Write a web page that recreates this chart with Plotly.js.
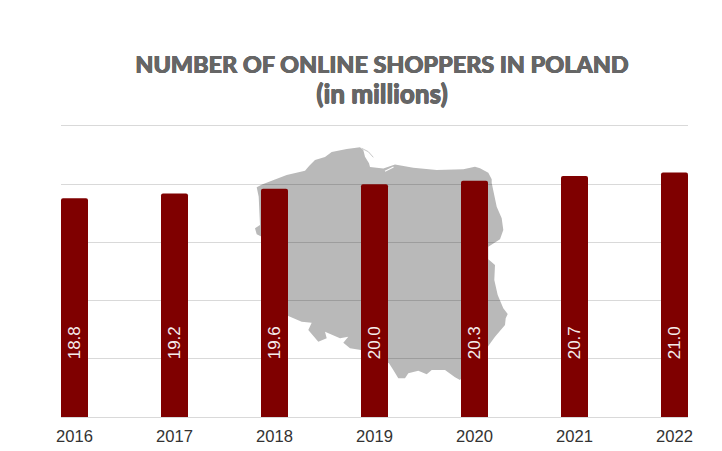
<!DOCTYPE html>
<html>
<head>
<meta charset="utf-8">
<script src="https://cdn.plot.ly/plotly-3.0.1.min.js"></script>
<style>html,body{margin:0;padding:0;background:#fff}</style>
</head>
<body>
<div id="chart" style="width:722px;height:451px"></div>
<script>
const years = ["2016","2017","2018","2019","2020","2021","2022"];
const shoppers = [18.8,19.2,19.6,20.0,20.3,20.7,21.0];
const labelHeight = 4.87;
const titleLines = ["NUMBER OF ONLINE SHOPPERS IN POLAND","(in millions)"];

// Decorative country silhouette traced in page pixels (not chart data)
const W = 722, H = 451;
const M = {l:61, r:34, t:124, b:34};
const outline = [[256.7,187.3],[262,184.5],[271.7,180.7],[286.7,175],[305,170.7],[309.3,165.7],[315,160],[325,157],[331.7,152],[346.7,149],[360,147.3],[363.3,150],[365,156.7],[369,163.3],[370,167],[383.3,168.5],[395,164.5],[413.3,167.7],[436.7,170],[463.3,169.3],[475,166.7],[480,168.3],[488.3,172.7],[491.7,179.3],[491.7,183],[496.7,206.7],[501.7,218.3],[503.3,230],[500,239.3],[488.3,246.7],[488.3,259.3],[495,265],[494.3,280],[497.7,295],[503.3,308.3],[507.7,314],[505.7,318.3],[505,325],[495,336.7],[488.3,346],[460,380],[455,377.3],[445,370],[431.7,370],[426.7,374.3],[418.3,370.7],[408.3,373.3],[405,378.3],[398.3,378.3],[393.3,370],[389,363.3],[361,350],[350,348.3],[343.3,342.7],[348.3,336.7],[340,338.3],[325,331.7],[326.7,338.3],[318.3,341.7],[308.3,330],[311.7,322.7],[301.7,321.7],[288.3,316],[262,290],[261.7,236.7],[256.7,234.3],[255,228.3],[260,225],[258.7,196.7]];
const hel = [[361.7,148.3],[368.3,151.7],[373.3,157.3]];
const lagoon = [[385,171.3],[393.5,167]];

const plotX = v => (v - M.l) / (W - M.l - M.r);
const plotY = v => (H - M.b - v) / (H - M.t - M.b);
const toPath = (pts, close) => "M" + pts.map(p => plotX(p[0]) + "," + plotY(p[1])).join(" L") + (close ? " Z" : "");

const shapes = [
  {type:"path", xref:"paper", yref:"paper", layer:"below", path:toPath(outline,true), fillcolor:"#b9b9b9", line:{width:0}},
  {type:"path", xref:"paper", yref:"paper", layer:"below", path:toPath(hel,false), line:{color:"#c8c8c8", width:1}},
  {type:"path", xref:"paper", yref:"paper", layer:"below", path:toPath(lagoon,false), line:{color:"#ffffff", width:1.2}}
];

const trace = {
  type:"bar", x:years, y:shoppers,
  marker:{color:"#7f0000", line:{width:0}},
  hoverinfo:"x+y"
};

const annotations = years.map((yr,i) => ({
  x:i, y:labelHeight, xref:"x", yref:"y",
  text:shoppers[i].toFixed(1), textangle:-90, showarrow:false,
  yanchor:"bottom", xanchor:"center", borderpad:0,
  font:{family:"Liberation Sans, Arial, sans-serif", size:17, color:"#f5ecec"}
}));

const layout = {
  width:W, height:H, margin:{l:M.l, r:M.r, t:M.t, b:M.b, autoexpand:false},
  paper_bgcolor:"#fff", plot_bgcolor:"rgba(0,0,0,0)",
  showlegend:false, bargap:0.73, barcornerradius:2,
  title:{text:titleLines[0] + '<br><span style="font-size:26px">' + titleLines[1] + '</span>', x:382/W, xanchor:"center", y:1-73/H, yanchor:"bottom", yref:"container",
    font:{family:"Lato, sans-serif", size:23.4, color:"#666666", weight:900, shadow:"0.5px 0 0 #666666, -0.3px 0 0 #666666, 0 0.3px 0 #666666"}},
  xaxis:{type:"category", categoryorder:"array", categoryarray:years, range:[-0.135,6.135], showgrid:false, showline:false, zeroline:false, ticks:"", ticklabelstandoff:7,
    tickfont:{family:"Liberation Sans, Arial, sans-serif", size:16.6, color:"#333333"}},
  yaxis:{range:[0,25.17], dtick:5, showticklabels:false, ticks:"", gridcolor:"rgba(0,0,0,0.15)", gridwidth:1, zeroline:true, zerolinecolor:"rgba(0,0,0,0.15)", zerolinewidth:1, showline:false},
  shapes:shapes, annotations:annotations
};
Plotly.newPlot("chart",[trace],layout,{displayModeBar:false,staticPlot:true});
</script>
</body>
</html>
